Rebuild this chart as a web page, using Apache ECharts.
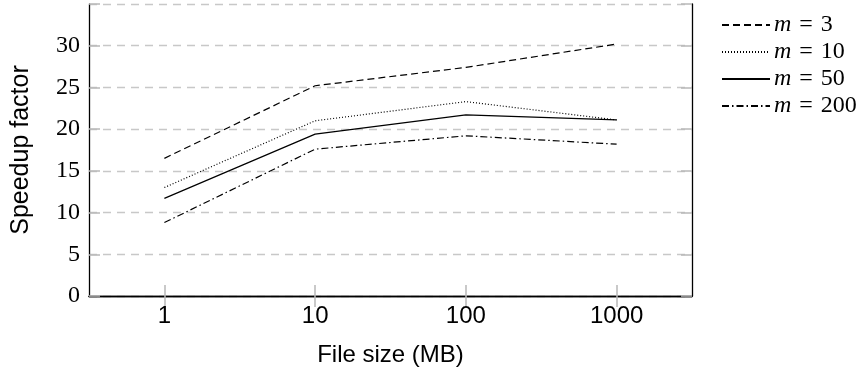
<!DOCTYPE html>
<html>
<head>
<meta charset="utf-8">
<script src="https://cdn.jsdelivr.net/npm/echarts@6/dist/echarts.min.js"></script>
<style>
  html, body { margin: 0; padding: 0; background: #fff; }
  #chart { width: 859px; height: 372px; }
</style>
</head>
<body>
<div id="chart"></div>
<script>
// file sizes (MB), shown on a log scale as evenly spaced categories
const fileSizes = ['1', '10', '100', '1000'];
const yTicks = [0, 5, 10, 15, 20, 25, 30];

const speedupM3 = [16.5, 25.2, 27.4, 30.2];
const speedupM10 = [13.0, 21.0, 23.3, 21.1];
const speedupM50 = [11.7, 19.4, 21.7, 21.1];
const speedupM200 = [8.8, 17.6, 19.2, 18.2];

const seriesNames = ['m = 3', 'm = 10', 'm = 50', 'm = 200'];
const seriesValues = [speedupM3, speedupM10, speedupM50, speedupM200];
const dashes = [[7, 4], [1, 2], 'solid', [7, 3, 1.5, 3]];

const serif = 'Liberation Serif';
const sans = 'Liberation Sans';

const chart = echarts.init(document.getElementById('chart'));

const tickStyle = { show: true, inside: true, length: 11, lineStyle: { color: '#b8b8b8', width: 1.5 } };

chart.setOption({
    backgroundColor: '#fff',
    animation: false,
    grid: { left: 89, right: 167, top: 4, bottom: 75 },
    legend: {
        orient: 'vertical',
        left: 716,
        top: 8,
        itemWidth: 48,
        itemHeight: 14,
        itemGap: 3,
        data: seriesNames,
        itemStyle: { opacity: 0 },
        formatter: name => '{i|m} {eq|=} ' + name.slice(4),
        textStyle: {
            fontFamily: serif,
            fontSize: 24,
            color: '#000',
            lineHeight: 21,
            padding: [0, 0, 0, -1],
            rich: {
                i: { fontFamily: serif, fontStyle: 'italic', fontSize: 24, color: '#000', lineHeight: 21 },
                eq: { fontFamily: serif, fontSize: 24, color: '#000', lineHeight: 21, padding: [0, 2, 0, 2] }
            }
        }
    },
    xAxis: [
        {
            type: 'category',
            data: fileSizes,
            boundaryGap: true,
            name: 'File size (MB)',
            nameLocation: 'middle',
            nameGap: 47,
            nameTextStyle: { fontFamily: sans, fontSize: 24, color: '#000' },
            axisLine: { lineStyle: { color: '#000', width: 1.3 } },
            axisTick: Object.assign({ alignWithLabel: true }, tickStyle),
            axisLabel: { fontFamily: sans, fontSize: 24, color: '#000', margin: 8 },
            splitLine: { show: false }
        },
        {
            type: 'category',
            data: fileSizes,
            position: 'top',
            boundaryGap: true,
            axisLine: { lineStyle: { color: '#000', width: 1.3 } },
            axisTick: Object.assign({ alignWithLabel: true }, tickStyle),
            axisLabel: { show: false },
            splitLine: { show: false }
        }
    ],
    yAxis: [
        {
            type: 'value',
            min: 0,
            max: 35,
            interval: 5,
            name: 'Speedup factor',
            nameLocation: 'middle',
            nameGap: 55,
            nameTextStyle: { fontFamily: sans, fontSize: 25, color: '#000' },
            axisLine: { show: true, lineStyle: { color: '#000', width: 1.3 } },
            axisTick: tickStyle,
            axisLabel: {
                fontFamily: serif,
                fontSize: 24,
                color: '#000',
                margin: 9,
                formatter: v => (yTicks.includes(v) ? String(v) : '')
            },
            splitLine: {
                show: true,
                lineStyle: { color: '#c8c8c8', type: [8, 6], width: 1.3 }
            }
        },
        {
            type: 'value',
            min: 0,
            max: 35,
            interval: 5,
            position: 'right',
            axisLine: { show: true, lineStyle: { color: '#000', width: 1.3 } },
            axisTick: tickStyle,
            axisLabel: { show: false },
            splitLine: { show: false }
        }
    ],
    series: seriesNames.map((name, i) => ({
        name: name,
        type: 'line',
        data: seriesValues[i],
        symbol: 'none',
        lineStyle: { color: '#000', width: 1.2, type: dashes[i] },
        itemStyle: { color: '#000' }
    }))
});
</script>
</body>
</html>
